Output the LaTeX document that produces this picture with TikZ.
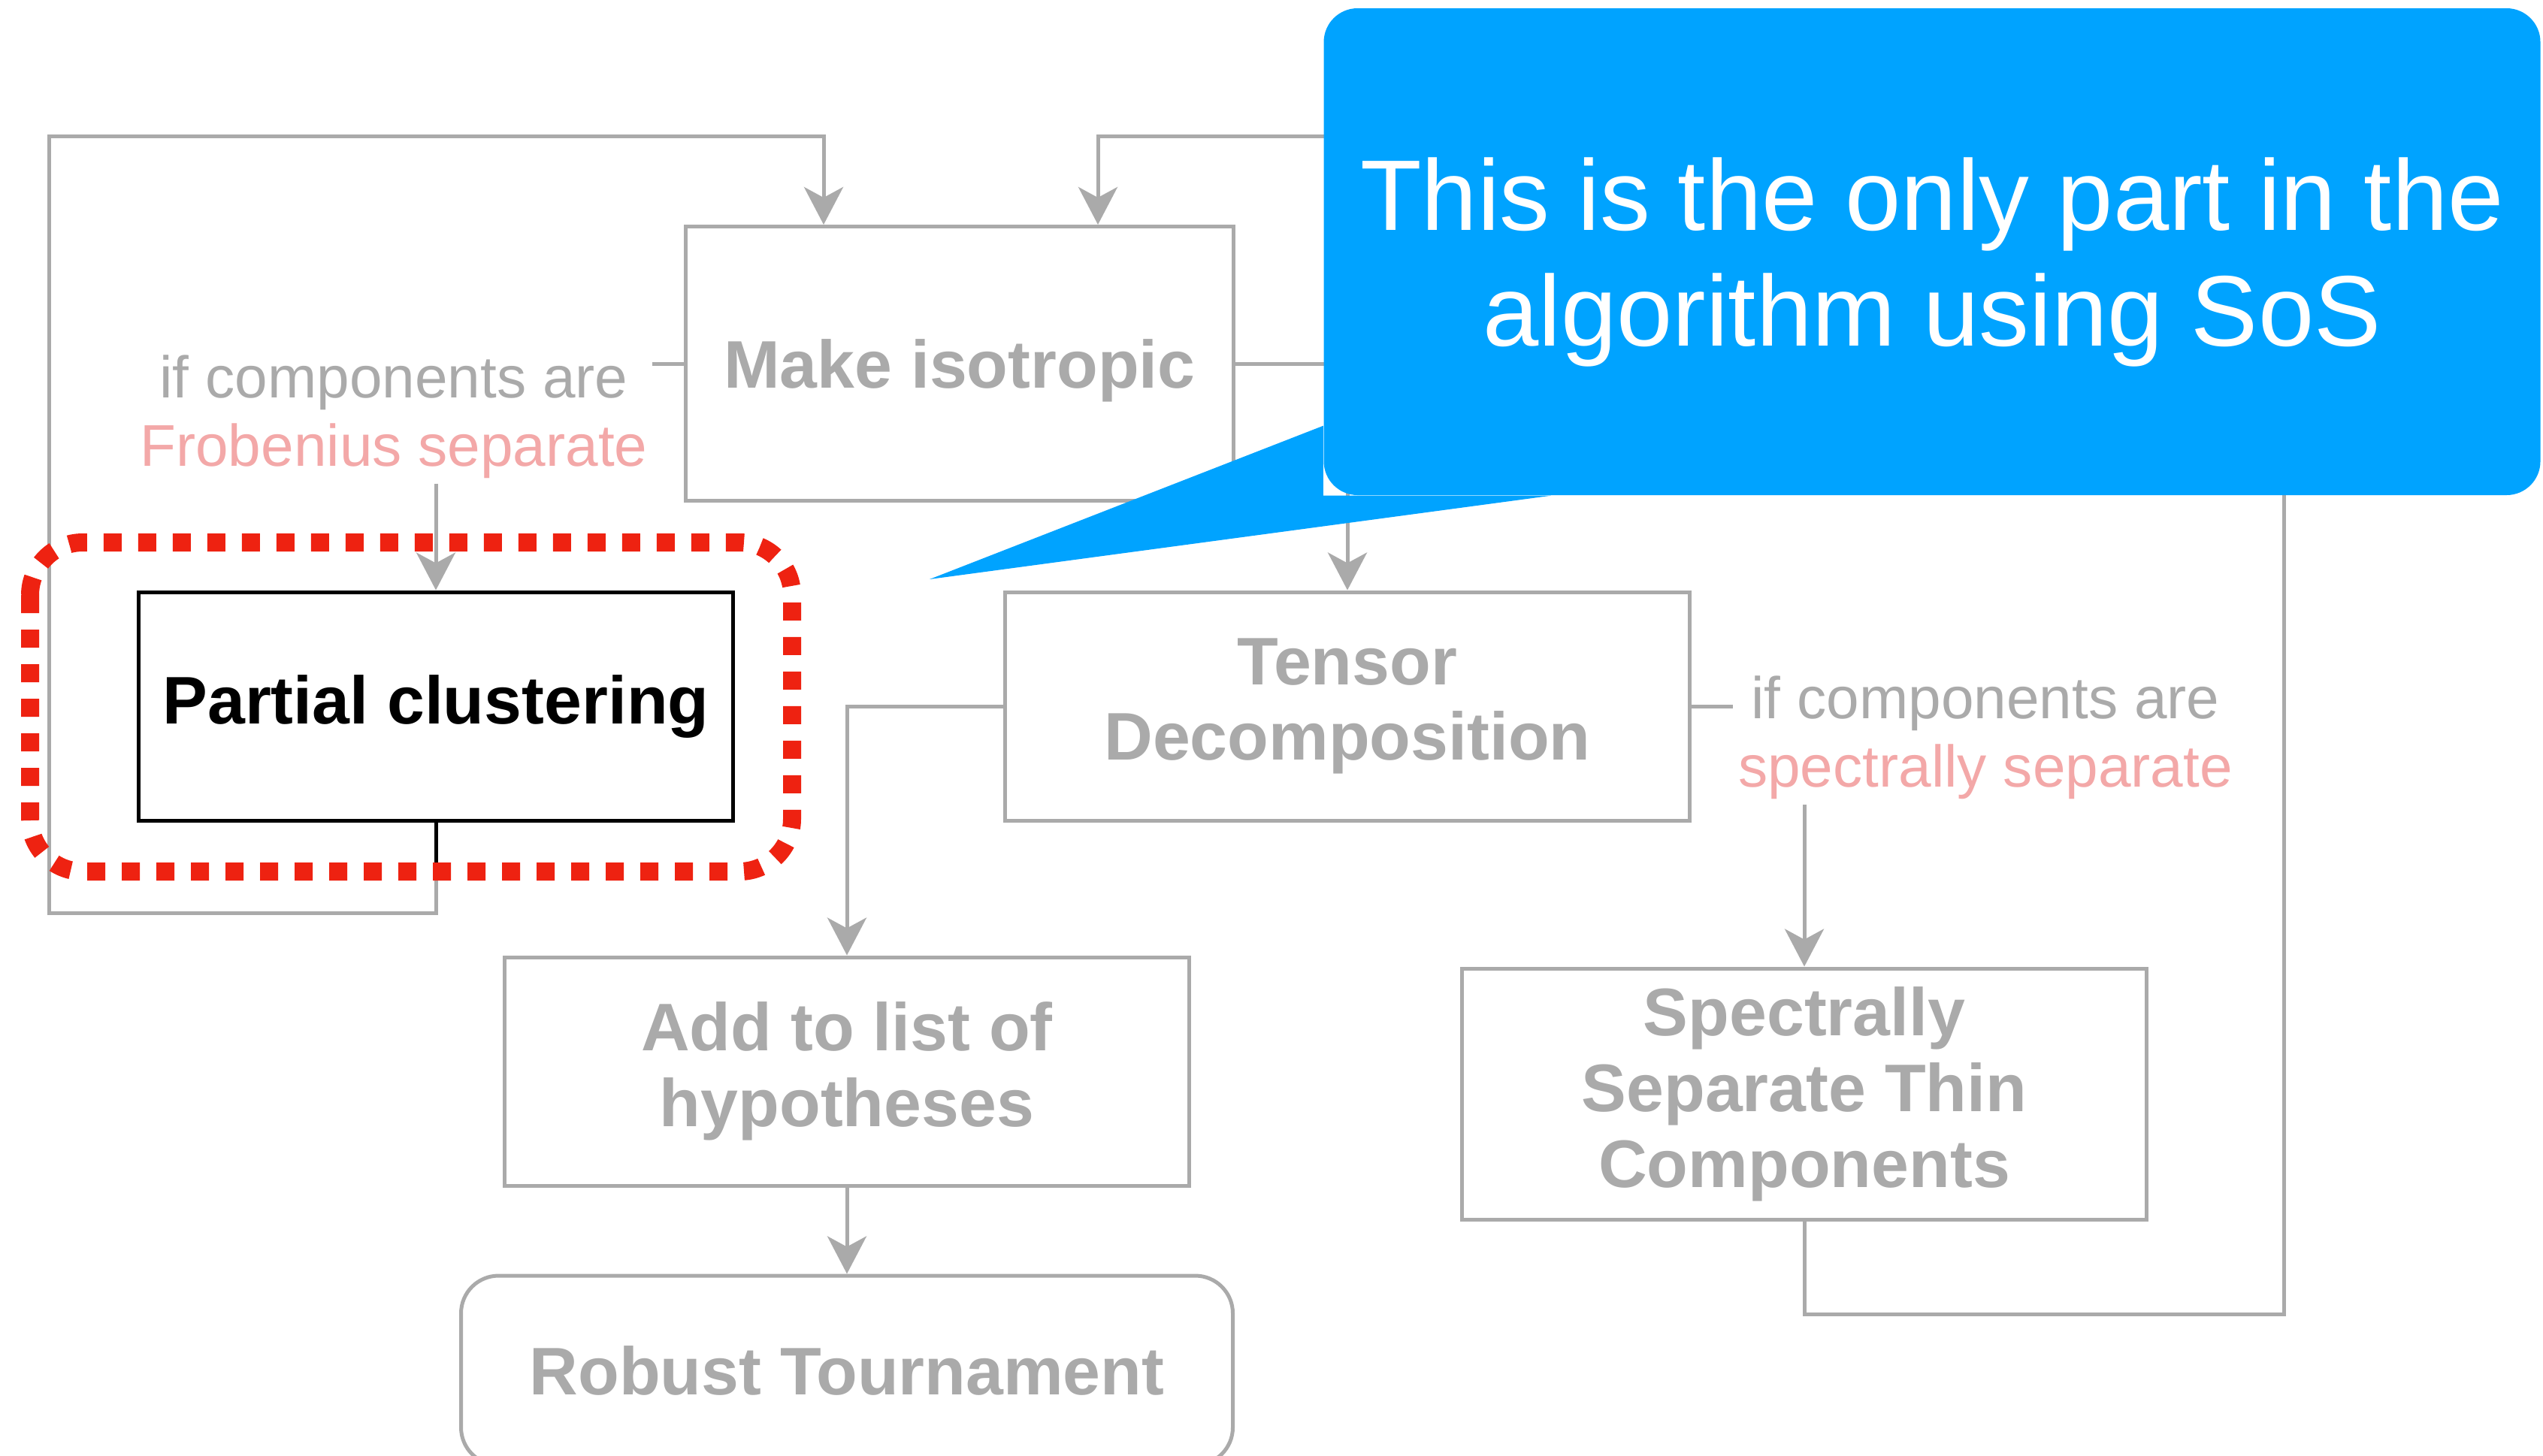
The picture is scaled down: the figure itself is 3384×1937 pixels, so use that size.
\documentclass[tikz,border=0pt]{standalone}
\usepackage{fontspec}
\setmainfont{Liberation Sans}
\usetikzlibrary{positioning, arrows.meta}
\definecolor{boxgray}{RGB}{170,170,170}
\definecolor{condpink}{RGB}{243,168,168}
\definecolor{sosblue}{RGB}{0,163,255}
\definecolor{focusred}{RGB}{238,34,17}

\begin{document}
\begin{tikzpicture}[
  x=0.1mm, y=-0.1mm,
  >={Stealth[length=5mm, width=5.2mm, inset=1.4mm]},
  algbox/.style={draw=boxgray, line width=0.5mm, minimum width=91.1mm, minimum height=30.4mm, align=center, text=boxgray, font=\fontsize{25.5}{28.7}\selectfont\bfseries},
  cond/.style={align=center, inner sep=0.6mm, text=boxgray, font=\fontsize{22.3}{25.8}\selectfont},
  arr/.style={->, draw=boxgray, line width=0.5mm},
  wire/.style={draw=boxgray, line width=0.5mm},
  note/.style={fill=sosblue, rounded corners=4.5mm, align=center, text=white, font=\fontsize{38}{43.6}\selectfont}
]
\useasboundingbox (0,0) rectangle (3384,1937);
\clip (0,0) rectangle (3384,1937);

\node[algbox, minimum width=72.9mm, minimum height=36.5mm, text depth=0pt] (make) at (1277,484) {Make isotropic};
\node[algbox, draw=black, text=black, minimum width=79.1mm] (pc) at (580,940) {Partial clustering};
\node[algbox] (tensor) at (1793,940) {Tensor\\Decomposition};
\node[algbox] (add) at (1127,1426) {Add to list of\\hypotheses};
\node[algbox, rounded corners=5mm, minimum width=102.7mm, minimum height=25.2mm] (robust) at (1127,1824) {Robust Tournament};
\node[algbox, minimum height=33.4mm] (spec) at (2401,1456) {Spectrally\\Separate Thin\\Components};
\node[cond] (frob) at (524,555) {if components are\\\textcolor{condpink}{Frobenius separate}};
\node[cond] (specsep) at (2642,982) {if components are\\\textcolor{condpink}{spectrally separate}};

% loops back to the top
\draw[arr] (pc.south) -- ++(0,121) -| (65,181) -| ([xshift=-18.1mm]make.north);
\draw[line width=0.5mm] (pc.south) -- ++(0,68);
\draw[arr] (spec.south) -- ++(0,124) -| (3039,181) -| ([xshift=18.4mm]make.north);

\draw[arr] (make.east) -| (tensor.north);
\draw[wire] (make.west) -- (make.west -| frob.east);
\draw[arr] (frob.south -| pc.north) -- (pc.north);
\draw[arr] (tensor.west) -| (add.north);
\draw[wire] (tensor.east) -- (tensor.east -| specsep.west);
\draw[arr] (specsep.south -| spec.north) -- (spec.north);
\draw[arr] (add) -- (robust);

% highlight
\draw[focusred, line width=2.4mm, dash pattern=on 2.4mm off 2.2mm, rounded corners=7mm] (40,722) rectangle (1054,1160);

% callout
\node[note, minimum width=161.9mm, minimum height=64.8mm, text depth=0pt] (sos) at (2571,335) {This is the only part in the\\algorithm using SoS};
\coordinate (tip) at (1237,771);
\fill[sosblue] ([yshift=9.3mm]sos.south west) -- (tip) -- ([xshift=30.3mm]sos.south west) -- (sos.south west) -- cycle;
\end{tikzpicture}
\end{document}
